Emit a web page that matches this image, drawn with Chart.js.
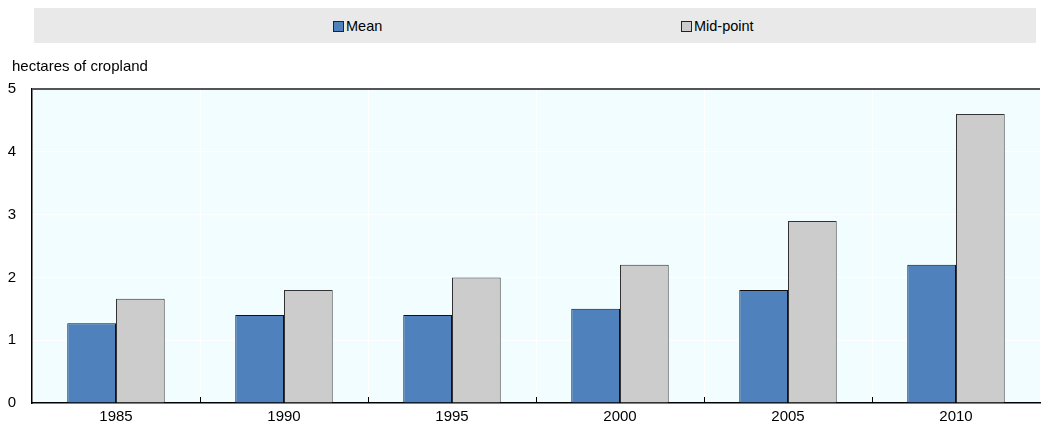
<!DOCTYPE html>
<html>
<head>
<meta charset="utf-8">
<script src="https://cdn.jsdelivr.net/npm/chart.js@4/dist/chart.umd.min.js"></script>
<style>
    html, body { margin: 0; padding: 0; background: #fff; }
    #wrap { position: relative; width: 1041px; height: 431px; }
    #legend {
        position: absolute; left: 34px; top: 8px; width: 1002px; height: 35px;
        background: #e9e9e9; font: 14.5px "Liberation Sans", Arial, sans-serif; color: #000;
    }
    .item { position: absolute; top: 9px; display: flex; align-items: center; line-height: 18px; }
    .box { width: 9px; height: 9px; border: 1px solid #222; margin-right: 2px; }
</style>
</head>
<body>
<div id="wrap">
    <canvas id="chart" width="1041" height="431"></canvas>
    <div id="legend"></div>
</div>
<script>
const years = ['1985', '1990', '1995', '2000', '2005', '2010'];
const meanValues = [1.27, 1.4, 1.4, 1.5, 1.8, 2.2];
const midValues = [1.66, 1.8, 2.0, 2.2, 2.9, 4.6];
const yTicks = [0, 1, 2, 3, 4, 5];

const FONT = '"Liberation Sans", Arial, sans-serif';

// light cyan plot area, inward ticks at category boundaries, unit label nudged right
const plotBg = {
    id: 'plotBg',
    afterLayout(chart) {
        chart.titleBlock.left = 12;
    },
    beforeDraw(chart) {
        const { ctx, chartArea: a } = chart;
        ctx.save();
        ctx.fillStyle = '#f2fdff';
        ctx.fillRect(a.left, a.top, a.right - a.left, a.bottom - a.top);
        ctx.restore();
    },
    afterDraw(chart) {
        const { ctx, chartArea: a } = chart;
        const x = chart.scales.x;
        ctx.save();
        ctx.strokeStyle = '#000';
        ctx.lineWidth = 1;
        for (let i = 1; i < years.length; i++) {
            const px = Math.round((x.getPixelForValue(i - 1) + x.getPixelForValue(i)) / 2) + 0.5;
            ctx.beginPath();
            ctx.moveTo(px, a.bottom);
            ctx.lineTo(px, a.bottom - 6);
            ctx.stroke();
        }
        ctx.restore();
    }
};

const chart = new Chart(document.getElementById('chart'), {
    type: 'bar',
    data: {
        labels: years,
        datasets: [
            {
                label: 'Mean',
                data: meanValues,
                backgroundColor: '#4f81bd',
                borderColor: '#111',
                borderWidth: 1
            },
            {
                label: 'Mid-point',
                data: midValues,
                backgroundColor: '#cccccc',
                borderColor: '#333',
                borderWidth: 1
            }
        ]
    },
    options: {
        responsive: false,
        animation: false,
        layout: { padding: { left: 0, right: 1, top: 58, bottom: 0 } },
        datasets: { bar: { categoryPercentage: 0.58, barPercentage: 1 } },
        plugins: {
            legend: { display: false },
            tooltip: { enabled: false },
            title: {
                display: true,
                text: 'hectares of cropland',
                align: 'start',
                color: '#000',
                font: { family: FONT, size: 15, weight: 'normal' },
                padding: { top: 0, bottom: 13 }
            }
        },
        scales: {
            x: {
                grid: { color: '#fff', lineWidth: 1, drawTicks: false, offset: true },
                border: { color: '#000', width: 1.5 },
                ticks: { color: '#000', padding: 5, font: { family: FONT, size: 15 } }
            },
            y: {
                min: 0,
                max: 5,
                afterBuildTicks: axis => { axis.ticks = yTicks.map(v => ({ value: v })); },
                afterFit: axis => { axis.width = 32; },
                grid: {
                    drawTicks: false,
                    color: c => c.tick && c.tick.value === 5 ? '#555' : '#fff',
                    lineWidth: c => c.tick && c.tick.value === 5 ? 2 : 1
                },
                border: { color: '#000', width: 1.5 },
                ticks: { color: '#000', padding: 16, font: { family: FONT, size: 15 } }
            }
        }
    },
    plugins: [plotBg]
});

// legend in a grey band, built from the datasets
const legendPos = [299, 647];
const legend = document.getElementById('legend');
chart.data.datasets.forEach((ds, i) => {
    const item = document.createElement('div');
    item.className = 'item';
    item.style.left = legendPos[i] + 'px';
    item.innerHTML = '<span class="box" style="background:' + ds.backgroundColor + '"></span>' + ds.label;
    legend.appendChild(item);
});
</script>
</body>
</html>
